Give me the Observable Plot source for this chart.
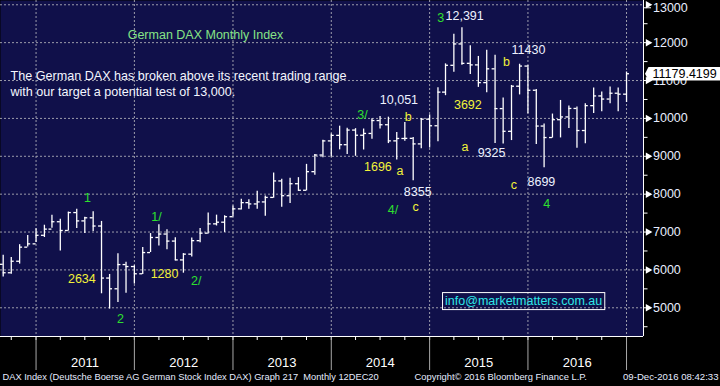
<!DOCTYPE html>
<html><head><meta charset="utf-8">
<script src="https://cdn.jsdelivr.net/npm/d3@7"></script>
<script src="https://cdn.jsdelivr.net/npm/@observablehq/plot@0.6"></script>
<style>html,body{margin:0;padding:0;background:#000;overflow:hidden}</style>
</head><body><div id="chart"></div>
<script>
// ---- data: DAX monthly OHLC, Aug 2010 .. Dec 2016 ----
const months = [
 "2010-08","2010-09","2010-10","2010-11","2010-12",
 "2011-01","2011-02","2011-03","2011-04","2011-05","2011-06","2011-07","2011-08","2011-09","2011-10","2011-11","2011-12",
 "2012-01","2012-02","2012-03","2012-04","2012-05","2012-06","2012-07","2012-08","2012-09","2012-10","2012-11","2012-12",
 "2013-01","2013-02","2013-03","2013-04","2013-05","2013-06","2013-07","2013-08","2013-09","2013-10","2013-11","2013-12",
 "2014-01","2014-02","2014-03","2014-04","2014-05","2014-06","2014-07","2014-08","2014-09","2014-10","2014-11","2014-12",
 "2015-01","2015-02","2015-03","2015-04","2015-05","2015-06","2015-07","2015-08","2015-09","2015-10","2015-11","2015-12",
 "2016-01","2016-02","2016-03","2016-04","2016-05","2016-06","2016-07","2016-08","2016-09","2016-10","2016-11","2016-12"];
const open = [
 6148,5925,6229,6601,6688,
 6914,7077,7272,7041,7514,7294,7376,7159,5785,5502,6141,6089,
 5898,6458,6856,6947,6761,6264,6416,6772,6970,7216,7260,7405,
 7612,7776,7742,7795,7914,8349,7959,8276,8103,8594,9033,9406,
 9552,9306,9692,9556,9603,9943,9833,9407,9470,9474,9327,9980,
 9806,10694,11402,11966,11454,11413,10945,11309,10259,9660,10850,11382,
 10743,9798,9495,9966,10039,10263,9680,10337,10593,10511,10665,10640];
const high = [
 6386,6331,6666,6907,7087,
 7180,7442,7340,7527,7600,7390,7533,7280,5880,6430,6200,6110,
 6595,6960,7194,7060,6850,6430,6840,7094,7500,7446,7430,7690,
 7867,7850,8074,7954,8558,8393,8419,8436,8787,9050,9426,9590,
 9795,9739,9730,9720,9991,10051,10033,9630,9891,9497,10000,10093,
 10810,11440,12219,12391,11921,11636,11802,11670,10540,10870,11430,11400,
 10760,9850,10115,10474,10330,10300,10390,10803,10700,10830,10800,11225];
const low = [
 5810,5888,6154,6608,6726,
 6856,7100,6500,7025,7094,6963,7015,5370,4966,5140,5384,5626,
 5880,6460,6630,6530,6244,5914,6340,6715,6950,7160,6990,7400,
 7580,7600,7600,7420,7893,7655,7751,8080,8085,8498,8961,8980,
 9170,9044,9000,9166,9451,9720,9335,8903,9400,8355,9200,9219,
 9382,10600,11220,11406,11156,10819,10675,9338,9325,9415,10620,10124,
 9314,8699,9480,9485,9735,9214,9330,10130,10174,10388,10175,10420];
const close = [
 5925,6229,6601,6688,6914,
 7077,7272,7041,7514,7294,7376,7159,5785,5502,6141,6089,5898,
 6458,6856,6947,6761,6264,6416,6772,6970,7216,7260,7405,7612,
 7776,7742,7795,7914,8349,7959,8276,8103,8594,9033,9406,9552,
 9306,9692,9556,9603,9943,9833,9407,9470,9474,9327,9980,9806,
 10694,11402,11966,11454,11413,10945,11309,10259,9660,10850,11382,10743,
 9798,9495,9966,10039,10263,9680,10337,10593,10511,10665,10640,11179.4199];

const yMajor = [5000,6000,7000,8000,9000,10000,11000,12000];
const yTop = [13000];
const yMinor = [4500,5500,6500,7500,8500,9500,10500,11500,12500];
const years = [2011,2012,2013,2014,2015,2016];
const lastPrice = 11179.4199;

// annotations (text, anchor date, anchor value, kind)
const annoText  = ["1","2634","2","1/","1280","2/","3/","10,051","b","1696","a","8355","4/","c","3","12,391","11430","b","3692","a","9325","c","8699","4"];
const annoDate  = ["2011-07-11","2011-06-20","2011-11-10","2012-03-23","2012-04-22","2012-08-18","2014-04-27","2014-09-09","2014-10-14","2014-06-23","2014-09-13","2014-11-18","2014-08-18","2014-11-10","2015-02-11","2015-05-11","2016-01-03","2015-10-13","2015-05-23","2015-05-12","2015-08-19","2015-11-10","2016-02-20","2016-03-11"];
const annoValue = [7899,5758,4717,7386,5890,5695,10101,10489,10048,8708,8602,8047,7582,7669,12646,12691,11811,11483,10357,9236,9088,8243,8330,7740];
const annoKind  = ["wave","move","wave","wave","move","wave","wave","level","sub","move","sub","level","wave","sub","wave","level","level","sub","move","sub","level","sub","level","wave"];

const titleText = "German DAX Monthly Index";
const noteText = "The German DAX has broken above its recent trading range\nwith our target a potential test of 13,000.";
const emailText = "info@marketmatters.com.au";
const footLeft = "DAX Index (Deutsche Boerse AG German Stock Index DAX) Graph 217  Monthly 12DEC20";
const footMid = "Copyright\u00A9 2016 Bloomberg Finance L.P.";
const footRight = "09-Dec-2016 08:42:33";

// ---- build ----
const bars = months.map((m, i) => ({
  date: d3.utcMonth.offset(new Date(m + "-01T00:00Z"), 1),
  open: open[i], high: high[i], low: low[i], close: close[i]
}));
const annos = annoText.map((t, i) => ({text: t, date: new Date(annoDate[i] + "T00:00Z"), value: annoValue[i], kind: annoKind[i]}));
const kindColor = {wave: "#2ee02e", move: "#f2f23a", sub: "#f2f23a", level: "#eef2ff"};

const yearStarts = years.map(y => new Date(Date.UTC(y, 0, 1))).concat([new Date(Date.UTC(2017, 0, 1))]);
const yearMids = years.map(y => new Date(Date.UTC(y, 6, 2)));
const quarters = d3.utcMonth.every(3).range(new Date("2010-09-01T00:00Z"), new Date("2017-03-01T00:00Z"));
const xDomain = [new Date("2010-08-22T00:00Z"), new Date("2017-03-05T00:00Z")];
const yDomain = [4242, 13113];
const font = "'Liberation Sans', Arial, sans-serif";
const grid = "#9c9cab";
const axisText = "#e8eeff";
const plain = d => String(d);

const plot = Plot.plot({
  width: 720, height: 386,
  marginLeft: 0, marginRight: 77, marginTop: 0, marginBottom: 50,
  style: {background: "#000", fontFamily: font, color: axisText},
  x: {type: "utc", domain: xDomain},
  y: {domain: yDomain},
  marks: [
    Plot.frame({fill: "#10104a", stroke: null}),
    Plot.gridY(yMajor.concat(yTop), {stroke: grid, strokeOpacity: 1, strokeDasharray: "2,2"}),
    Plot.gridX(yearStarts, {stroke: grid, strokeOpacity: 1, strokeDasharray: "2,2"}),
    // axes
    Plot.axisY(yMajor, {anchor: "right", tickSize: 7, tickPadding: 2.5, fontSize: 12.5, color: axisText, stroke: "white", tickFormat: plain}),
    Plot.axisY(yTop, {anchor: "right", tickSize: 7, tickPadding: 2.5, fontSize: 12.5, color: axisText, stroke: "white", tickFormat: plain, dy: 3}),
    Plot.axisY(yMinor, {anchor: "right", tickSize: 3.5, tickFormat: () => "", stroke: "white"}),
    Plot.dot(yMajor.concat(yTop), {y: d => d, frameAnchor: "right", symbol: "triangle", r: 2.8, rotate: 90, fill: "white", stroke: null, dx: 4.5}),
    Plot.axisX(quarters, {anchor: "bottom", tickSize: 4, tickFormat: () => "", stroke: "white"}),
    Plot.axisX(yearStarts, {anchor: "bottom", tickSize: 34, tickFormat: () => "", stroke: "#a8a8a8"}),
    Plot.axisX(yearMids, {anchor: "bottom", tickSize: 0, tickPadding: 21, tickFormat: d => d3.utcFormat("%Y")(d), fontSize: 13, color: "#ffffff"}),
    Plot.ruleY([yDomain[0]], {stroke: "white"}),
    Plot.ruleX([xDomain[1]], {stroke: "white"}),
    // OHLC bars
    Plot.ruleX(bars, {x: "date", y1: "low", y2: "high", stroke: "white", strokeWidth: 1.3}),
    Plot.ruleY(bars, {y: "open", x1: d => d3.utcDay.offset(d.date, -11), x2: "date", stroke: "white", strokeWidth: 1.3}),
    Plot.ruleY(bars, {y: "close", x1: "date", x2: d => d3.utcDay.offset(d.date, 11), stroke: "white", strokeWidth: 1.3}),
    // annotations
    Plot.text(annos, {x: "date", y: "value", text: "text", fill: d => kindColor[d.kind], fontSize: 12.5}),
    Plot.text([titleText], {x: () => new Date("2012-09-21T00:00Z"), y: () => 12189, text: d => d, fill: "#86e486", fontSize: 12.5}),
    Plot.text([noteText], {x: () => new Date("2010-09-28T00:00Z"), y: () => 10946, text: d => d, fill: "#f4f6ff", fontSize: 12.6, textAnchor: "start", lineHeight: 1.28}),
    Plot.text([emailText], {x: () => new Date("2015-12-16T00:00Z"), y: () => 5177, text: d => d, fill: "#2ee8e8", fontSize: 12.5}),
    // last price label
    Plot.text([lastPrice], {y: d => d, frameAnchor: "right", dx: 9, textAnchor: "start", text: d => d.toFixed(4), fill: "#000", fontSize: 12.5}),
    // footer
    Plot.text([footLeft], {frameAnchor: "bottom-left", dx: 2, dy: 43, textAnchor: "start", text: d => d, fill: "#e6ecff", fontSize: 9.3}),
    Plot.text([footMid], {frameAnchor: "bottom-left", dx: 414, dy: 43, textAnchor: "start", text: d => d, fill: "#e6ecff", fontSize: 9.4}),
    Plot.text([footRight], {frameAnchor: "bottom-right", dx: 75, dy: 43, textAnchor: "end", text: d => d, fill: "#e6ecff", fontSize: 9.6})
  ]
});
document.getElementById("chart").appendChild(plot);

// decorate: price flag and email box (shapes share the text's own transform)
const NS = "http://www.w3.org/2000/svg";
try {
  plot.querySelectorAll("text").forEach(el => {
    const t = el.textContent;
    if (t !== lastPrice.toFixed(4) && t !== emailText) return;
    const b = el.getBBox();
    let shape;
    if (t === emailText) {
      shape = document.createElementNS(NS, "rect");
      shape.setAttribute("x", b.x - 2.5); shape.setAttribute("y", b.y - 1.5);
      shape.setAttribute("width", b.width + 5); shape.setAttribute("height", b.height + 3);
      shape.setAttribute("fill", "none"); shape.setAttribute("stroke", "white");
    } else {
      const top = b.y + 0.3, bot = b.y + b.height - 0.3, mid = (top + bot) / 2;
      const left = b.x - 4;
      shape = document.createElementNS(NS, "path");
      shape.setAttribute("d", `M${left - 3.5},${mid}L${left},${top}H${b.x + 200}V${bot}H${left}Z`);
      shape.setAttribute("fill", "white");
    }
    const tr = el.getAttribute("transform");
    if (tr) shape.setAttribute("transform", tr);
    el.parentNode.insertBefore(shape, el);
  });
} catch (e) {
  const d = document.createElement("pre"); d.style.color = "red"; d.textContent = String(e); document.body.appendChild(d);
}
</script></body></html>
